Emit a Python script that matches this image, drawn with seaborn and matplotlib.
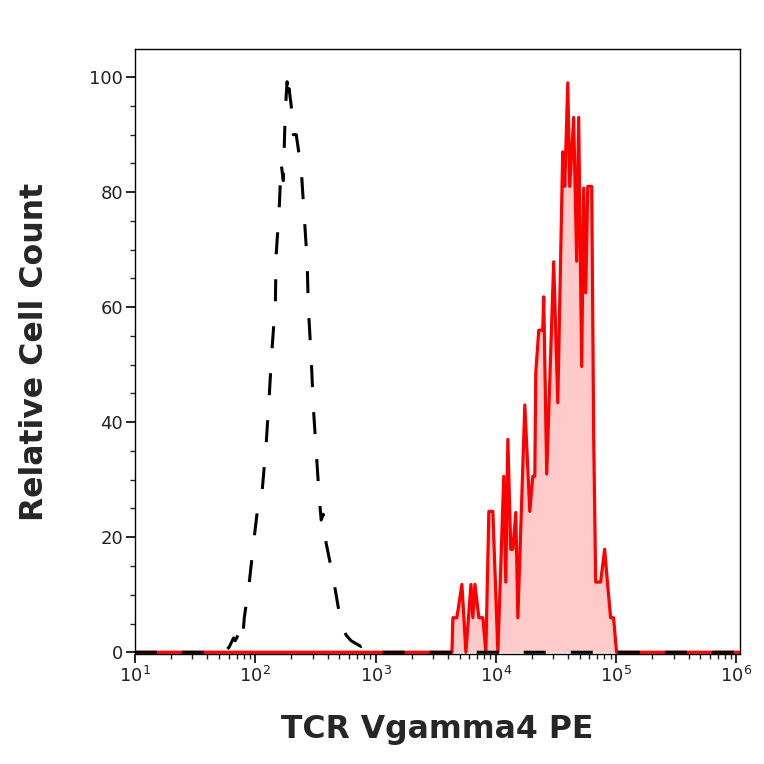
import matplotlib
matplotlib.use("Agg")
import matplotlib.pyplot as plt
import matplotlib.ticker as mticker
import seaborn as sns
import numpy as np

# isotype control (black dashed)
ctrl_fl = [10, 56, 61, 66, 68, 72, 78, 81, 89, 98, 106, 114, 123, 131, 136, 147, 149,
           158, 164, 171, 177, 181, 184, 188, 191, 199, 207, 219, 241, 255, 270, 276,
           292, 303, 321, 340, 353, 367, 388, 444, 488, 517, 569, 626, 758, 834, 918,
           1009, 1.07e6]
ctrl_count = [0, 0, 1, 2.5, 2, 3, 1.5, 6, 12, 20, 26, 28, 36, 45, 51, 61, 69,
              77, 85, 82, 93, 97, 99.2, 96, 98, 95, 90, 90, 84, 76, 68, 60,
              51, 43, 35, 27, 23, 24, 19, 13, 8, 5, 3, 2, 1, 1.5, 0.5,
              0, 0]

# TCR Vgamma4 PE stained sample (red, filled)
stain_fl = [10, 3846, 4315, 4395, 4742, 5224, 5636, 6209, 6442, 6699, 7228, 7799,
            8260, 8750, 9441, 10398, 11643, 12094, 12586, 13311, 13840, 14660,
            15241, 17418, 19155, 20281, 21090, 21478, 22745, 24547, 25004, 26480,
            30268, 32735, 35975, 37411, 39628, 41115, 44367, 46987, 48824, 51710,
            53752, 55876, 58085, 62681, 65114, 67642, 70229, 74294, 80291, 84975,
            89990, 95215, 100852, 1.07e6]
stain_count = [0, 0, 0, 6, 6, 11.8, 0, 11.8, 6, 11.8, 6, 6,
               0, 24.5, 24.5, 0, 30.6, 12.2, 37, 17.9, 17.9, 24.3,
               6, 43, 24.5, 30.6, 30.6, 48.6, 56, 56, 61.8, 31,
               67.9, 43.4, 87, 81, 99, 81, 93, 68, 93, 49.7,
               80.7, 62.5, 81, 81, 37, 12.2, 12.2, 12.2, 17.9, 11.8,
               6, 6, 0, 0]

y_ticks = [0, 20, 40, 60, 80, 100]

sns.set_style("ticks")
plt.rcParams['font.family'] = ['DejaVu Sans']

fig = plt.figure(figsize=(7.64, 7.64), dpi=100)
ax = fig.add_axes([0.1767, 0.144, 0.9686 - 0.1767, 0.9359 - 0.144])
ax.set_xscale("log")

ax.fill_between(stain_fl, stain_count, 0, color="#ffcaca", linewidth=0, zorder=1)
sns.lineplot(x=stain_fl, y=stain_count, color="#ff0000", linewidth=2.3,
             estimator=None, sort=False, ax=ax, zorder=2)
sns.lineplot(x=ctrl_fl, y=ctrl_count, color="black", linewidth=2.2,
             estimator=None, sort=False, ax=ax, zorder=3)
ctrl_line = ax.lines[-1]
ctrl_line.set_dashes((7.2, 8.2))  # x linewidth -> ~22px dash, 25px gap
ctrl_line.set_dash_capstyle("butt")

ax.set_xlim(10, 10 ** 6.03)
ax.set_ylim(-0.3, 104.9)
ax.set_yticks(y_ticks)
ax.yaxis.set_minor_locator(mticker.MultipleLocator(5))
ax.xaxis.set_major_locator(mticker.LogLocator(base=10, numticks=10))
ax.xaxis.set_minor_locator(mticker.LogLocator(base=10, subs=np.arange(2, 10), numticks=20))
ax.xaxis.set_minor_formatter(mticker.NullFormatter())

ax.tick_params(axis="both", which="major", length=6.5, width=1.2, labelsize=13,
               pad=2, colors="black", labelcolor="#222222")
ax.tick_params(axis="both", which="minor", length=3.5, width=1.0)
for s in ax.spines.values():
    s.set_linewidth(1.0)
    s.set_color("black")

ax.set_xlabel("TCR Vgamma4 PE", fontsize=22.7, fontweight="bold", labelpad=20)
ax.set_ylabel("Relative Cell Count", fontsize=22.7, fontweight="bold", labelpad=28)

fig.savefig("out.png", dpi=100)
